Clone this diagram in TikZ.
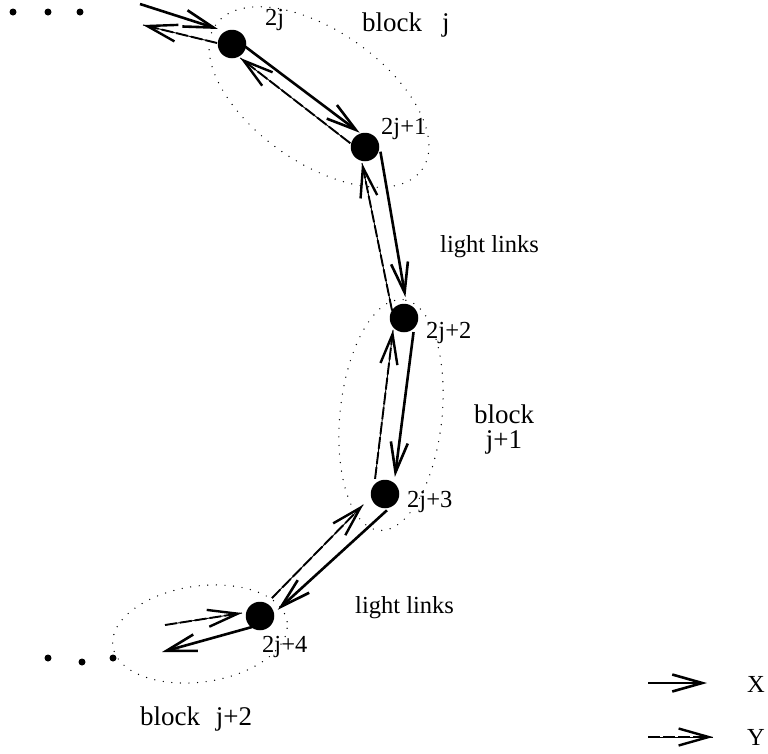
\documentclass[tikz,border=0pt]{standalone}
\usepackage{fontspec}
\setmainfont{Liberation Serif}
\usetikzlibrary{calc,arrows.meta}
% style, from, to, shift along at start, left offset at start, shift along at end, left offset at end
\newcommand\linkarrow[7]{\draw[#1] ($(#2)!#4!(#3)!#5!90:(#3)$) -- ($(#3)!#6!(#2)!#7!-90:(#2)$);}
\begin{document}
\begin{tikzpicture}[x=1pt,y=-1pt,
  site/.style={circle,fill=black,inner sep=0pt,minimum size=28.5pt},
  dotn/.style={circle,fill=black,inner sep=0pt,minimum size=7pt},
  grp/.style={line width=1.4pt,dash pattern=on 0pt off 8.6pt,line cap=round},
  xarr/.style={line width=2.6pt,-{Straight Barb[length=30pt,width=17pt]}},
  yarr/.style={line width=1.9pt,dash pattern=on 12pt off 3pt,
    -{Straight Barb[length=30pt,width=17pt,line width=2.4pt]},
    preaction={draw,solid,line width=0.9pt,arrows=-}},
  nlab/.style={anchor=base west,inner sep=0pt,font=\fontsize{24.5}{29}\selectfont},
  llab/.style={anchor=base west,inner sep=0pt,font=\fontsize{24.5}{29}\selectfont},
  blab/.style={inner sep=0pt,font=\fontsize{27}{32}\selectfont},
]
\fill[white] (0,0) rectangle (768,753);
\useasboundingbox (0,0) rectangle (768,753);

% block outlines
\draw[grp, rotate around={-35:(319,97)}] (319,97) ellipse[x radius=126pt, y radius=66pt];
\draw[grp, rotate around={84:(391,415)}] (391,415) ellipse[x radius=116pt, y radius=51pt];
\draw[grp, rotate around={8:(200,634)}] (200,634) ellipse[x radius=88pt, y radius=48pt];

% sites
\node[site] (n0) at (232,44) {};
\node[site] (n1) at (365,147) {};
\node[site] (n2) at (404,318) {};
\node[site] (n3) at (385,494) {};
\node[site] (n4) at (260,616) {};

% ellipsis dots
\node[dotn] (d1) at (13,12) {};
\node[dotn] (d2) at (48,12) {};
\node[dotn] (d3) at (80,12) {};
\node[dotn] (d4) at (48,658) {};
\node[dotn] (d5) at (82,662) {};
\node[dotn] (d6) at (113,658) {};

% links
\linkarrow{xarr}{n0}{n1}{12pt}{6pt}{13pt}{8pt}
\linkarrow{yarr}{n1}{n0}{14pt}{6pt}{15pt}{6pt}
\linkarrow{xarr}{n1}{n2}{8pt}{14pt}{20pt}{6pt}
\linkarrow{yarr}{n2}{n1}{10pt}{10pt}{15pt}{6.5pt}
\linkarrow{xarr}{n2}{n3}{13pt}{11pt}{18pt}{8pt}
\linkarrow{yarr}{n3}{n2}{14pt}{11.5pt}{13pt}{9.6pt}
\linkarrow{xarr}{n3}{n4}{10pt}{13pt}{17pt}{8pt}
\linkarrow{yarr}{n4}{n3}{21pt}{4.5pt}{23pt}{7.5pt}

% free-end arrows
\coordinate (inx) at (140,4);
\draw[xarr] (inx) -- ($(n0)+(-14,-15)$);
\coordinate (outy) at (143,25);
\draw[yarr] ($(n0)+(-15,-1)$) -- (outy);
\coordinate (iny) at (165,625);
\draw[yarr] (iny) -- ($(n4)+(-18,-3)$);
\coordinate (outx) at (162,652);
\draw[xarr] ($(n4)+(-8,11)$) -- (outx);

% labels
\node[nlab] (l0) at (265,25) {2j};
\node[nlab] (l1) at (381,134) {2j+1};
\node[nlab] (l2) at (426,338) {2j+2};
\node[nlab] (l3) at (407,507) {2j+3};
\node[nlab] (l4) at (262,652) {2j+4};
\node[blab,anchor=base west] (bj) at (362,31) {block\hspace{20pt}j};
\node[blab,anchor=base] (bj1a) at (504,423) {block};
\node[blab,anchor=base] (bj1b) at (504,448) {j+1};
\node[blab,anchor=base west] (bj2) at (140,725) {block\hspace{9pt} j+2};
\node[llab] (ll1) at (440,252) {light links};
\node[llab] (ll2) at (355,613) {light links};

% legend
\coordinate (lx1) at (648,683);
\coordinate (lx2) at (707,683);
\draw[xarr] (lx1) -- (lx2);
\coordinate (ly1) at (648,737);
\coordinate (ly2) at (713,737);
\draw[yarr] (ly1) -- (ly2);
\node[nlab] (labx) at (747,692) {X};
\node[nlab] (laby) at (747,745) {Y};
\end{tikzpicture}
\end{document}
